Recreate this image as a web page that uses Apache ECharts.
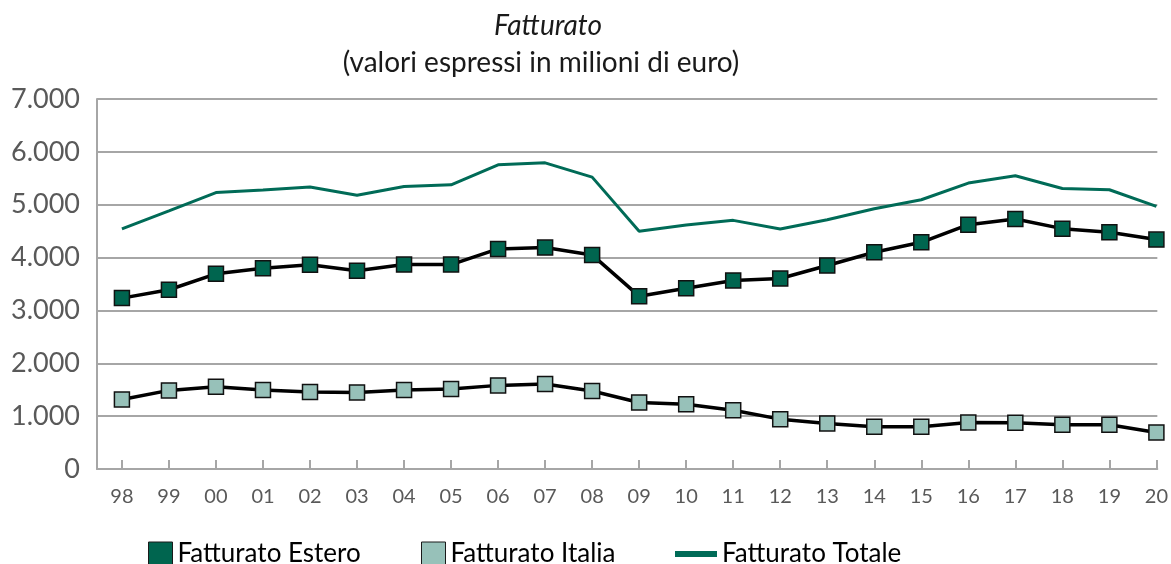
<!DOCTYPE html>
<html>
<head>
<meta charset="utf-8">
<script src="https://cdn.jsdelivr.net/npm/echarts@6/dist/echarts.min.js"></script>
<style>
  html, body { margin: 0; padding: 0; background: #fff; }
  #main { width: 1171px; height: 564px; }
</style>
</head>
<body>
<div id="main"></div>
<script>
var anni = ['98','99','00','01','02','03','04','05','06','07','08','09','10','11','12','13','14','15','16','17','18','19','20'];
var estero = [3233,3391,3693,3800,3863,3750,3868,3868,4164,4189,4050,3270,3421,3566,3604,3849,4101,4289,4623,4730,4547,4478,4340];
var italia = [1316,1487,1557,1494,1456,1449,1494,1513,1582,1608,1476,1258,1226,1113,943,862,799,799,881,874,836,836,692];
var totale = [4543,4883,5230,5280,5337,5180,5346,5377,5755,5792,5522,4497,4616,4704,4541,4717,4925,5094,5409,5547,5308,5283,4969];

var font = 'Lato';
var grigio = '#a6a6a6';
var idx = anni.map(function(a, i) { return i; });

function coppie(arr) {
  return arr.map(function(v, i) { return [i, v]; });
}

function migliaia(v) {
  return String(v).replace(/\B(?=(\d{3})+(?!\d))/g, '.');
}

var myChart = echarts.init(document.getElementById('main'));

var legendText = { fontFamily: font, fontSize: 26, color: '#000' };

var option = {
  animation: false,
  backgroundColor: '#fff',
  title: [{
    text: 'Fatturato',
    left: 543,
    top: 7,
    textAlign: 'center',
    textStyle: { fontFamily: font, fontSize: 28, fontWeight: 'normal', fontStyle: 'italic', color: '#1a1a1a' }
  }, {
    text: '(valori espressi in milioni di euro)',
    left: 536,
    top: 44,
    textAlign: 'center',
    textStyle: { fontFamily: font, fontSize: 28, fontWeight: 'normal', color: '#1a1a1a' }
  }],
  legend: [{
    data: ['Fatturato Estero'],
    left: 143, top: 536,
    icon: 'rect', itemWidth: 24, itemHeight: 24, itemGap: 8,
    itemStyle: { borderColor: '#1a1a1a', borderWidth: 1 },
    textStyle: legendText
  }, {
    data: ['Fatturato Italia'],
    left: 416, top: 536,
    icon: 'rect', itemWidth: 24, itemHeight: 24,
    itemStyle: { borderColor: '#1a1a1a', borderWidth: 1 },
    textStyle: legendText
  }, {
    data: ['Fatturato Totale'],
    left: 670, top: 536,
    icon: 'rect', itemWidth: 42, itemHeight: 6,
    itemStyle: { borderWidth: 0 },
    textStyle: legendText
  }],
  grid: { left: 97, right: 11, top: 99, bottom: 95 },
  xAxis: {
    type: 'value',
    min: -0.53,
    max: 22.02,
    axisLine: { show: true, lineStyle: { color: grigio, width: 2 } },
    axisTick: { show: true, inside: true, length: 9, customValues: idx, lineStyle: { color: grigio, width: 2 } },
    axisLabel: {
      customValues: idx,
      margin: 18,
      fontFamily: font, fontSize: 20, color: '#595959',
      formatter: function(v) { return anni[Math.round(v)]; }
    },
    splitLine: { show: false }
  },
  yAxis: {
    type: 'value',
    min: 0, max: 7000, interval: 1000,
    axisLine: { show: true, onZero: false, lineStyle: { color: grigio, width: 2 } },
    axisTick: { show: false },
    axisLabel: {
      margin: 17,
      padding: [8, 0, 0, 0],
      fontFamily: font, fontSize: 27, color: '#595959',
      formatter: function(v) { return migliaia(v); }
    },
    splitLine: { lineStyle: { color: grigio, width: 2 } }
  },
  series: [{
    name: 'Fatturato Totale',
    type: 'line',
    data: coppie(totale),
    showSymbol: false,
    symbol: 'none',
    itemStyle: { color: '#006b57' },
    lineStyle: { color: '#006b57', width: 3 },
    z: 2
  }, {
    name: 'Fatturato Estero',
    type: 'line',
    data: coppie(estero),
    symbol: 'rect',
    symbolSize: 15,
    itemStyle: { color: '#00654f', borderColor: '#111', borderWidth: 1.5 },
    lineStyle: { color: '#000', width: 3.5 },
    z: 3
  }, {
    name: 'Fatturato Italia',
    type: 'line',
    data: coppie(italia),
    symbol: 'rect',
    symbolSize: 15,
    itemStyle: { color: '#97c1b9', borderColor: '#111', borderWidth: 1.5 },
    lineStyle: { color: '#000', width: 3.5 },
    z: 3
  }]
};
myChart.setOption(option);
</script>
</body>
</html>
